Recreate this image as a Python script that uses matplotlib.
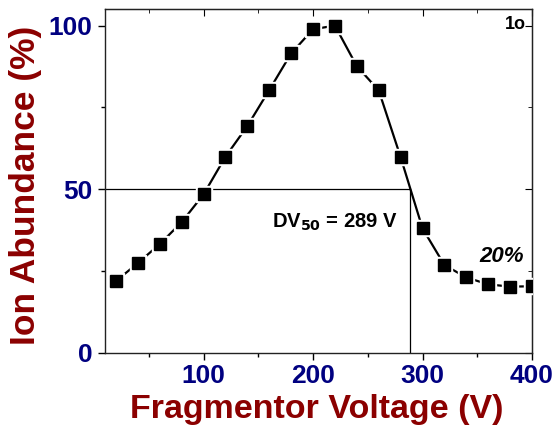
import matplotlib
matplotlib.use("Agg")
import matplotlib.pyplot as plt
from matplotlib.ticker import MultipleLocator

# Fragmentor voltage scan of ion abundance
voltage = [20, 40, 60, 80, 100, 120, 140, 160, 180, 200,
           220, 240, 260, 280, 300, 320, 340, 360, 380, 400]
abundance = [21.9, 27.4, 33.2, 39.9, 48.4, 59.9, 69.3, 80.3, 91.5, 98.9,
             100.0, 87.6, 80.2, 59.8, 38.0, 26.8, 23.0, 20.9, 20.2, 20.3]

dv50 = 289
x_ticks = [100, 200, 300, 400]
y_ticks = [0, 50, 100]

label_color = "#8B0000"
tick_color = "#000080"
font = "Liberation Sans"

fig = plt.figure(figsize=(5.58, 4.32), dpi=100)
ax = fig.add_axes([0.1882, 0.1836, 0.9534 - 0.1882, 0.9785 - 0.1836])

ax.set_xlim(10, 400)
ax.set_ylim(0, 105)

# DV50 guide lines
ax.plot([10, dv50], [50, 50], color="black", lw=0.9, zorder=1)
ax.plot([dv50, dv50], [0, 50], color="black", lw=0.9, zorder=1)

# connecting line, white halo squares, then the black markers
ax.plot(voltage, abundance, color="black", lw=1.6, zorder=2)
ax.plot(voltage, abundance, ls="none", marker="s", ms=12, color="white", zorder=3)
ax.plot(voltage, abundance, ls="none", marker="s", ms=8, color="black", zorder=4)

ax.set_xticks(x_ticks)
ax.set_yticks(y_ticks)
ax.xaxis.set_minor_locator(MultipleLocator(50))
ax.yaxis.set_minor_locator(MultipleLocator(25))
ax.tick_params(axis="x", which="major", direction="out", length=5, width=1, pad=3)
ax.tick_params(axis="y", which="major", direction="out", length=5, width=1, pad=4)
ax.tick_params(which="minor", direction="out", length=3, width=1)
for lab in ax.get_xticklabels() + ax.get_yticklabels():
    lab.set_fontfamily(font)
    lab.set_fontweight("bold")
    lab.set_fontsize(19)
    lab.set_color(tick_color)

for sp in ax.spines.values():
    sp.set_linewidth(1.0)
    sp.set_color("#222222")

# mirrored inward ticks on top and right
top = ax.secondary_xaxis("top")
top.set_xticks(x_ticks)
top.xaxis.set_minor_locator(MultipleLocator(50))
top.tick_params(which="major", direction="in", length=5, labeltop=False)
top.tick_params(which="minor", direction="in", length=3)
right = ax.secondary_yaxis("right")
right.set_yticks(y_ticks)
right.yaxis.set_minor_locator(MultipleLocator(25))
right.tick_params(which="major", direction="in", length=5, labelright=False)
right.tick_params(which="minor", direction="in", length=3)

ax.set_xlabel("Fragmentor Voltage (V)", fontfamily=font, fontweight="bold",
              fontsize=24.5, color=label_color)
ax.set_ylabel("Ion Abundance (%)", fontfamily=font, fontweight="bold",
              fontsize=25.5, color=label_color)
ax.xaxis.set_label_coords(0.497, -0.165, transform=ax.transAxes)
ax.yaxis.set_label_coords(-0.187, 0.486, transform=ax.transAxes)
ax.xaxis.label.set_va("center")
ax.yaxis.label.set_va("center")

ax.text(0.391, 0.38, r"DV$_{\mathbf{50}}$ = %d V" % dv50, transform=ax.transAxes,
        fontfamily=font, fontweight="bold", fontsize=14.5, ha="left", va="center")
ax.text(0.981, 0.279, "20%", transform=ax.transAxes, fontfamily=font,
        fontweight="bold", fontstyle="italic", fontsize=16, ha="right", va="center")
ax.text(0.985, 0.955, "1o", transform=ax.transAxes, fontfamily=font,
        fontweight="bold", fontsize=13, ha="right", va="center")

fig.savefig("out.png", dpi=100)
